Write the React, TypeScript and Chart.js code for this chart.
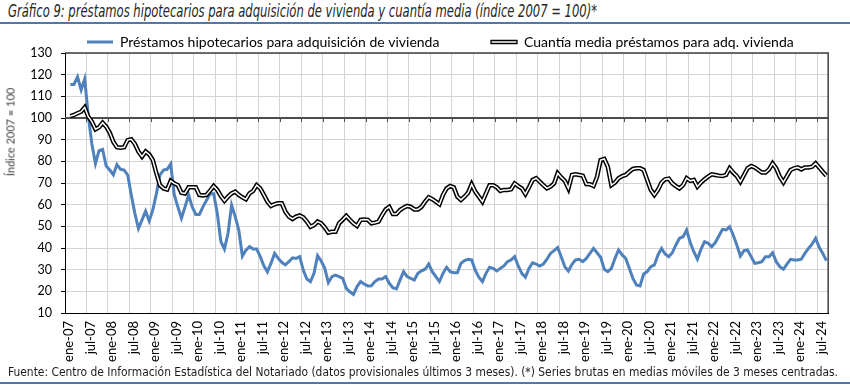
import React, { useEffect, useRef } from 'react';
import { Chart, registerables } from 'chart.js';

Chart.register(...registerables);

// ---------- DATA ----------
const MONTH_ABBR = ['ene', 'feb', 'mar', 'abr', 'may', 'jun', 'jul', 'ago', 'sep', 'oct', 'nov', 'dic'];
const FIRST_YEAR_2D = 7; // 2007
const N_MONTHS = 213; // ene-07 .. sep-24
const categories: string[] = [];
for (let i = 0; i < N_MONTHS; i++) {
  categories.push(`${MONTH_ABBR[i % 12]}-${String(FIRST_YEAR_2D + Math.floor(i / 12)).padStart(2, '0')}`);
}

// Préstamos hipotecarios para adquisición de vivienda (índice 2007 = 100)
const prestamos: (number | null)[] = [
  // 2007
  null, 115.5, 115.5, 119, 113, 118, 101, 88, 79, 84.9, 85.5, 77.8,
  // 2008
  76, 73.8, 78.5, 76.3, 76, 73.7, 64.5, 56, 49, 53, 57, 52.5,
  // 2009
  57.5, 65, 73.7, 76, 76.3, 78.8, 64.5, 59, 53.7, 59, 64.5, 59,
  // 2010
  55.5, 55.5, 59, 62, 65, 65, 56, 43, 39.5, 46.8, 59.8, 54.5,
  // 2011
  48.3, 36.3, 39, 40.6, 39.5, 39.5, 36, 31.8, 29, 33, 37.5, 35.2,
  // 2012
  33.4, 32.2, 33.7, 35.5, 35.2, 36, 29.8, 25.7, 24.5, 28.3, 36.5, 34,
  // 2013
  30.6, 24, 26.8, 27.5, 26.8, 26, 21.4, 19.8, 18.6, 22.2, 24.5, 23.4,
  // 2014
  22.5, 22.6, 24.5, 25.7, 25.7, 26.8, 23.7, 21.7, 21.1, 25.2, 29.1, 26.8,
  // 2015
  26, 25.2, 28.3, 29.5, 30.2, 32.6, 29.1, 26.8, 24.5, 28.3, 31.1, 29.1,
  // 2016
  28.6, 28.6, 32.9, 34.2, 34.8, 34.5, 29.8, 26.5, 24.5, 28.3, 31.1, 30.6,
  // 2017
  29.4, 30.6, 31.7, 33.7, 34.5, 36, 31.7, 28.3, 26.5, 30.6, 33.2, 32.6,
  // 2018
  31.7, 32.6, 34.8, 37.5, 38.8, 40.2, 36, 31.4, 29.4, 32.5, 34.5, 34.8,
  // 2019
  33.7, 35.2, 37.5, 39.8, 37.8, 35.7, 30.2, 29.1, 30.6, 35.2, 39.1, 36.8,
  // 2020
  35.2, 30.6, 26, 22.9, 22.5, 28, 29.1, 31.4, 32.2, 36.8, 39.8, 37.2,
  // 2021
  36, 37.8, 41.4, 44.5, 45.2, 48.3, 42.5, 38.3, 34.9, 39.4, 42.9, 42.2,
  // 2022
  40.6, 42.5, 45.5, 48.6, 48.3, 49.8, 46, 41.4, 36.3, 38.8, 39.1, 36,
  // 2023
  32.9, 33.2, 33.7, 36, 36, 37.8, 33.7, 31.4, 30.2, 32.6, 34.8, 34.5,
  // 2024
  34.5, 34.8, 37.5, 39.8, 41.8, 44.5, 40.3, 37.5, 34.2,
];

// Cuantía media préstamos para adq. vivienda (índice 2007 = 100)
const cuantia: (number | null)[] = [
  // 2007
  null, 100.9, 101.4, 102.2, 102.9, 104.9, 100.6, 98.3, 94.8, 95.7, 97.8, 96,
  // 2008
  93.2, 89, 86.5, 86.3, 86.5, 89.8, 90.2, 88, 84.5, 82.2, 84.5, 83.2,
  // 2009
  80.6, 74.5, 69, 67.5, 67, 71, 69.8, 69, 65.5, 65.2, 68, 68,
  // 2010
  68, 64.5, 64.2, 64.5, 66.5, 68.6, 66.8, 64, 61.8, 63.7, 65.2, 66,
  // 2011
  64.5, 63.4, 62.5, 65.2, 66.3, 69, 67.5, 64.5, 61.4, 59.4, 60.2, 60.6,
  // 2012
  60.6, 56.8, 54.5, 53.4, 54.5, 55, 54.2, 52.2, 49.8, 50.6, 52.2, 51.4,
  // 2013
  49.5, 47.1, 47.5, 47.5, 51.4, 53, 54.8, 53, 51.4, 50.2, 53, 53.2,
  // 2014
  53, 51.4, 51.7, 52.2, 55.2, 57.8, 59, 55.7, 55.7, 57.5, 58.6, 59.4,
  // 2015
  59, 57.8, 57.8, 59, 61.4, 63.4, 62.5, 61.4, 60.2, 64.5, 67.5, 68.6,
  // 2016
  68, 63.7, 62.2, 63.7, 65.5, 69.4, 66, 63.7, 61.4, 65.2, 69, 69,
  // 2017
  68, 66.3, 66.8, 66.8, 67.1, 69.8, 68.6, 67.5, 64.9, 68, 71.4, 72.2,
  // 2018
  70.6, 69, 67.5, 68.3, 69.8, 74.5, 72.6, 71, 67.5, 73.7, 74, 73.7,
  // 2019
  73.4, 69.5, 69.4, 68.6, 72.9, 80.6, 81.1, 77.5, 69, 70.2, 72.2, 73.2,
  // 2020
  73.7, 75.2, 76.5, 76.8, 76.8, 76, 71.4, 66.8, 64.5, 66.8, 70.2, 71.7,
  // 2021
  72, 69.8, 68.6, 67.5, 69, 72.2, 71, 71.4, 68.3, 70.2, 71.7, 72.9,
  // 2022
  74, 73.7, 73.4, 73.2, 73.7, 76.8, 74.8, 73.2, 70.6, 73.7, 76.8, 77.8,
  // 2023
  77.2, 76, 74.8, 74.8, 76.3, 79.1, 76.8, 72.9, 70.3, 73.2, 76, 76.8,
  // 2024
  77.2, 76.3, 77.2, 77.2, 77.5, 79.1, 77.2, 75.2, 73.4,
];

const Y_MIN = 10;
const Y_MAX = 130;
const Y_STEP = 10;
const REF_VALUE = 100;
const LABEL_EVERY = 6;

const TITLE = 'Gráfico 9: préstamos hipotecarios para adquisición de vivienda y cuantía media (índice 2007 = 100)*';
const FOOTER = 'Fuente: Centro de Información Estadística del Notariado (datos provisionales últimos 3 meses). (*) Series brutas en medias móviles de 3 meses centradas.';
const Y_TITLE = 'Índice 2007 = 100';
const LABEL_A = 'Préstamos hipotecarios para adquisición de vivienda';
const LABEL_B = 'Cuantía media préstamos para adq. vivienda';

// ---------- STYLE ----------
const BLUE = '#4f81bd';
const RULE_BLUE = '#4f78b0';
const FONT = 'Lato, "Noto Sans", sans-serif';
const NARROW = '"Liberation Sans Narrow", "Arial Narrow", "DejaVu Sans Condensed", "Liberation Sans", sans-serif';
const LEGEND_SIZE = 14;

export default function App() {
  const canvasRef = useRef<HTMLCanvasElement | null>(null);
  const titleRef = useRef<HTMLSpanElement | null>(null);
  const footRef = useRef<HTMLSpanElement | null>(null);

  useEffect(() => {
    const fit = (el: HTMLElement | null, target: number) => {
      if (!el) return;
      el.style.transform = 'none';
      const w = el.getBoundingClientRect().width;
      if (w > 0) el.style.transform = `scaleX(${target / w})`;
    };
    fit(titleRef.current, 589);
    fit(footRef.current, 830);

    const mctx = document.createElement('canvas').getContext('2d')!;
    mctx.font = `${LEGEND_SIZE}px ${FONT}`;
    const wA = mctx.measureText(LABEL_A).width;
    const P = Math.max(10, 491 - 87 - (26 + LEGEND_SIZE / 2 + wA));

    const legendPos = {
      id: 'legendPos',
      afterLayout(chart: any) {
        const lg = chart.legend;
        if (!lg) return;
        lg.left = 87 - P;
        lg.right = 1500;
        lg.top = 42 - P - LEGEND_SIZE / 2;
        lg.bottom = lg.top + P + 60;
      },
    };

    const refLine = {
      id: 'refLine',
      beforeDatasetsDraw(chart: any) {
        const { ctx, chartArea: a, scales } = chart;
        const x = scales.x;
        const y = scales.y;
        const y100 = Math.round(y.getPixelForValue(REF_VALUE));
        const step = x.getPixelForValue(1) - x.getPixelForValue(0);
        ctx.save();
        ctx.strokeStyle = '#4d4d4d';
        ctx.lineWidth = 1;
        ctx.beginPath();
        for (let i = LABEL_EVERY; i < categories.length; i += LABEL_EVERY) {
          const px = Math.round(x.getPixelForValue(i) - step / 2) + 0.5;
          ctx.moveTo(px, y100);
          ctx.lineTo(px, y100 + 4);
        }
        ctx.stroke();
        ctx.lineWidth = 2;
        ctx.beginPath();
        ctx.moveTo(a.left, y100);
        ctx.lineTo(a.right, y100);
        ctx.stroke();
        ctx.restore();
      },
      afterDatasetsDraw(chart: any) {
        const { ctx, chartArea: a } = chart;
        ctx.save();
        ctx.strokeStyle = '#404040';
        ctx.lineWidth = 1.5;
        ctx.beginPath();
        ctx.moveTo(a.left, a.top);
        ctx.lineTo(a.right, a.top);
        ctx.lineTo(a.right, a.bottom);
        ctx.stroke();
        ctx.restore();
      },
    };

    const chart = new Chart(canvasRef.current!, {
      type: 'line',
      data: {
        labels: categories,
        datasets: [
          {
            label: LABEL_A,
            data: prestamos,
            borderColor: BLUE,
            borderWidth: 3,
            pointRadius: 0,
            tension: 0,
            order: 3,
            spanGaps: false,
          },
          {
            label: LABEL_B,
            data: cuantia,
            borderColor: '#000000',
            borderWidth: 4.5,
            pointRadius: 0,
            tension: 0,
            order: 2,
          },
          {
            label: LABEL_B + ' (interior)',
            data: cuantia,
            borderColor: '#ffffff',
            borderWidth: 1.5,
            pointRadius: 0,
            tension: 0,
            order: 1,
          },
        ],
      },
      options: {
        animation: false,
        responsive: true,
        maintainAspectRatio: false,
        layout: { padding: { top: 0, left: 0, right: 12, bottom: 0 } },
        plugins: {
          tooltip: { enabled: false },
          title: { display: false },
          legend: {
            display: true,
            position: 'top',
            align: 'start',
            maxHeight: 53,
            labels: {
              boxWidth: 26,
              boxHeight: 3,
              padding: P,
              color: '#000',
              font: { family: FONT, size: LEGEND_SIZE },
              generateLabels: () => [
                { text: LABEL_A, fillStyle: BLUE, strokeStyle: BLUE, lineWidth: 0, datasetIndex: 0, hidden: false },
                { text: LABEL_B, fillStyle: '#ffffff', strokeStyle: '#000000', lineWidth: 1.3, datasetIndex: 1, hidden: false },
              ],
            },
          },
        },
        scales: {
          x: {
            type: 'category',
            offset: true,
            grid: {
              offset: true,
              drawTicks: false,
              lineWidth: 1,
              color: (c: any) => (c.index % LABEL_EVERY === 0 ? '#d4d4d4' : 'rgba(0,0,0,0)'),
            },
            border: { color: '#000', width: 1 },
            ticks: {
              autoSkip: false,
              minRotation: 90,
              maxRotation: 90,
              padding: 8,
              labelOffset: 2.5,
              color: '#000',
              font: { family: FONT, size: 13 },
              callback: (_v: any, i: number) => (i % LABEL_EVERY === 0 ? categories[i] : ''),
            },
            afterFit: (s: any) => {
              s.height = 73;
            },
          },
          y: {
            min: Y_MIN,
            max: Y_MAX,
            ticks: {
              stepSize: Y_STEP,
              padding: 9,
              color: '#000',
              font: { family: FONT, size: 12.5 },
            },
            grid: { color: '#d4d4d4', tickColor: '#000', tickLength: 4, drawTicks: true },
            border: { color: '#000', width: 1 },
            afterFit: (s: any) => {
              s.width = 65;
            },
          },
        },
      },
      plugins: [legendPos, refLine],
    } as any);

    return () => chart.destroy();
  }, []);

  return (
    <div style={{ position: 'absolute', left: 0, top: 0, width: 850, height: 386, background: '#fff', overflow: 'hidden' }}>
      <div style={{ position: 'absolute', left: 8, top: 0, whiteSpace: 'nowrap', lineHeight: '21px' }}>
        <span
          ref={titleRef}
          style={{ display: 'inline-block', fontFamily: NARROW, fontStyle: 'italic', fontSize: 18, color: '#262626', transformOrigin: 'left center' }}
        >
          {TITLE}
        </span>
      </div>
      <div style={{ position: 'absolute', left: 0, top: 22, width: 850, height: 2, background: RULE_BLUE }} />
      <div style={{ position: 'absolute', left: 0, top: 0, width: 850, height: 386 }}>
        <canvas ref={canvasRef} />
      </div>
      <div
        style={{
          position: 'absolute',
          left: 10,
          top: 132,
          transform: 'translate(-50%, -50%) rotate(-90deg)',
          whiteSpace: 'nowrap',
          fontFamily: FONT,
          fontSize: 11,
          fontWeight: 400,
          color: '#404040',
        }}
      >
        {Y_TITLE}
      </div>
      <div style={{ position: 'absolute', left: 8, top: 364, whiteSpace: 'nowrap', lineHeight: '14px' }}>
        <span
          ref={footRef}
          style={{ display: 'inline-block', fontFamily: NARROW, fontSize: 12, color: '#1a1a1a', transformOrigin: 'left center' }}
        >
          {FOOTER}
        </span>
      </div>
      <div style={{ position: 'absolute', left: 0, top: 382, width: 850, height: 2, background: RULE_BLUE }} />
    </div>
  );
}
